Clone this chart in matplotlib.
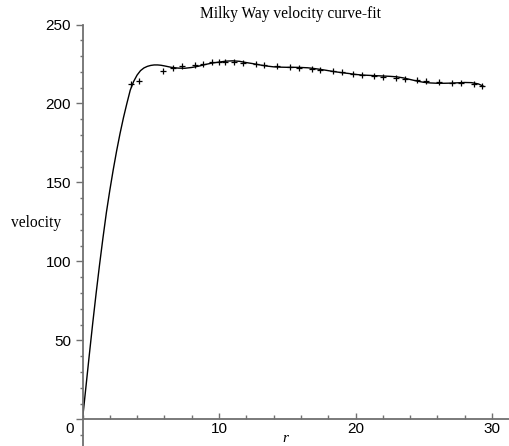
import matplotlib
matplotlib.use("Agg")
import matplotlib.pyplot as plt
from matplotlib.ticker import MultipleLocator, FixedLocator
from matplotlib.transforms import ScaledTranslation

# observed data points (r in kpc, velocity km/s)
r_obs = [3.55, 4.16, 5.87, 6.65, 7.27, 8.23, 8.83, 9.52, 10.02, 10.45, 11.1, 11.73,
         12.7, 13.3, 14.27, 15.2, 15.85, 16.8, 17.4, 18.38, 19.0, 19.82, 20.45,
         21.38, 22.0, 23.0, 23.6, 24.5, 25.16, 26.1, 27.1, 27.7, 28.7, 29.3]
v_obs = [212.2, 214.2, 220.5, 222.5, 223.9, 224.5, 225.0, 226.2, 226.5, 226.5, 226.3,
         225.4, 225.0, 224.4, 223.9, 223.3, 222.7, 221.8, 221.3, 220.6, 219.7,
         218.9, 218.2, 217.6, 217.0, 216.3, 215.7, 214.9, 214.2, 213.4, 212.8,
         212.8, 212.2, 211.3]

# fitted curve values
r_fit = [0, 0.25, 0.5, 0.75, 1.0, 1.25, 1.5, 1.75, 2.0, 2.25, 2.5, 2.75, 3.0, 3.25,
         3.5, 3.75, 4.0, 4.25, 4.5, 4.75, 5.0, 5.25, 5.5, 5.75, 6.0, 6.5, 7.0,
         7.5, 8.0, 8.5, 9.0, 9.5, 10.0, 10.5, 11.0, 11.5, 12.0, 12.5, 13.0, 13.5,
         14.0, 14.5, 15.0, 15.5, 16.0, 16.5, 17.0, 17.5, 18.0, 18.5, 19.0, 19.5,
         20.0, 20.5, 21.0, 21.5, 22.0, 22.5, 23.0, 23.5, 24.0, 24.5, 25.0, 25.5,
         26.0, 26.5, 27.0, 27.5, 28.0, 28.5, 29.0, 29.4]
v_fit = [0, 20.5, 41, 61, 80, 98, 115, 131, 145, 158, 170, 181, 191, 200,
         208.5, 214, 218, 220.8, 222.5, 223.5, 224.1, 224.4, 224.4, 224.2, 223.8,
         222.9, 222.4, 222.3, 222.8, 223.6, 224.7, 225.6, 226.2, 226.8, 227.0,
         226.7, 225.9, 225.2, 224.4, 223.7, 223.2, 223.0, 222.9, 222.9, 222.8,
         222.6, 222.1, 221.5, 220.8, 220.1, 219.5, 219.0, 218.4, 218.0, 217.8,
         217.6, 217.4, 217.2, 216.9, 216.2, 215.2, 214.2, 213.4, 213.0, 212.8,
         212.8, 212.9, 213.1, 213.3, 213.2, 212.4, 210.8]

title = "Milky Way velocity curve-fit"
xlabel = "r"
ylabel = "velocity"
x_major = [10, 20, 30]
y_major = [0, 50, 100, 150, 200, 250]

W, H = 510, 446
fig = plt.figure(figsize=(W / 100, H / 100), dpi=100)
left_px, top_px = 82.5, 24.5
ax = fig.add_axes([left_px / W, 0.0, 1 - left_px / W, (H - top_px) / H])

ax.plot(r_fit, v_fit, color="black", lw=1.0)
ax.plot(r_obs, v_obs, linestyle="none", marker="+", color="black",
        markersize=4.5, markeredgewidth=0.9)

ax.set_xlim(0, (W - left_px) / 13.65)
ax.set_ylim(-16.8, 250)

axis_col = "#707070"
for s in ["top", "right"]:
    ax.spines[s].set_visible(False)
ax.spines["left"].set_color(axis_col)
ax.spines["left"].set_linewidth(1.3)
ax.spines["bottom"].set_color(axis_col)
ax.spines["bottom"].set_linewidth(1.3)
ax.spines["bottom"].set_position(("data", 0))

ax.xaxis.set_major_locator(FixedLocator(x_major))
ax.xaxis.set_minor_locator(MultipleLocator(2))
ax.yaxis.set_major_locator(FixedLocator(y_major))
ax.yaxis.set_minor_locator(MultipleLocator(10))

ax.tick_params(axis="x", which="both", direction="in", color=axis_col,
               width=1.0, pad=1.5, labelsize=11)
ax.tick_params(axis="x", which="major", length=4)
ax.tick_params(axis="x", which="minor", length=3)
ax.tick_params(axis="y", which="both", direction="out", color=axis_col,
               width=1.0, pad=3.3, labelsize=11)
ax.tick_params(axis="y", which="major", length=5)
ax.tick_params(axis="y", which="minor", length=2.5)

for lab in ax.get_xticklabels() + ax.get_yticklabels():
    lab.set_fontfamily("Liberation Sans")

fig.canvas.draw()
# shift the '0' y-label down like the reference
for lab in ax.get_yticklabels():
    if lab.get_text() == "0":
        lab.set_transform(lab.get_transform() + ScaledTranslation(2 / 72, -6 / 72, fig.dpi_scale_trans))

fig.text(291 / W, 1 - 14 / H, title, ha="center", va="center",
         fontfamily="Liberation Serif", fontsize=11.2)
fig.text(36 / W, 1 - 223 / H, ylabel, ha="center", va="center",
         fontfamily="Liberation Serif", fontsize=11.2)
fig.text(285 / W, 1 - 445 / H, xlabel, ha="center", va="bottom",
         fontfamily="Liberation Serif", fontstyle="italic", fontsize=11)

fig.savefig("out.png", dpi=100)
